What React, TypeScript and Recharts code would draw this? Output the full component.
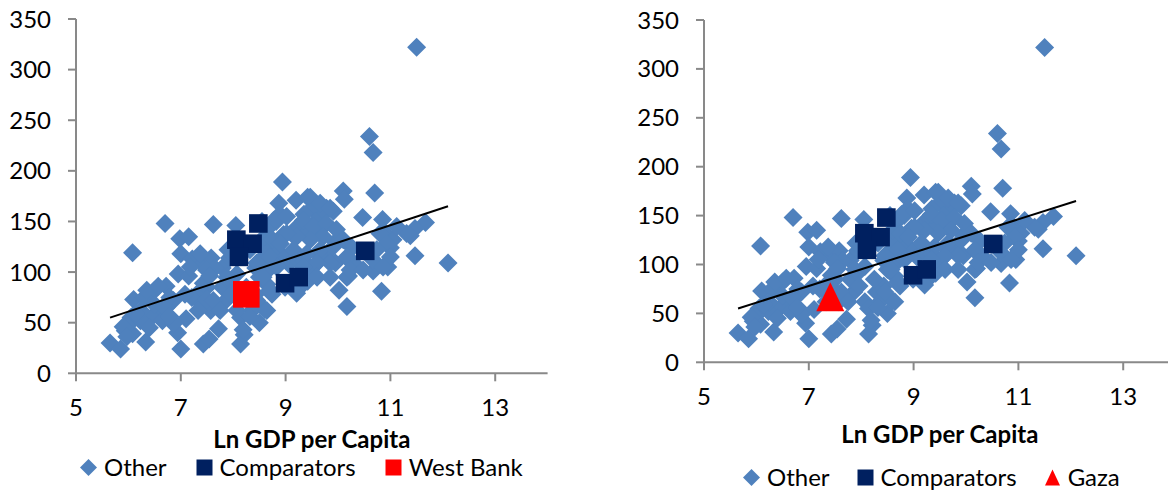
import { ScatterChart, Scatter, XAxis, YAxis, Legend } from "recharts";

const X_TICKS = [5, 7, 9, 11, 13];
const Y_TICKS = [0, 50, 100, 150, 200, 250, 300, 350];

// [ln GDP per capita, value] - the "Other" countries, same set on both panels
const OTHER: [number, number][] = [
  [11.5, 322], [10.6, 234], [10.67, 218], [8.94, 189], [10.7, 178], [10.1, 180], [10.12, 172], [8.87, 168], [9.2, 171], [9.42, 174],
  [6.7, 148], [7.62, 147], [8.05, 146], [10.47, 154], [10.85, 152], [11.67, 149], [11.47, 143], [11.38, 136], [11.47, 116], [12.1, 109],
  [6.08, 119], [6.98, 133], [7.15, 135], [7.0, 118], [7.22, 113], [7.42, 108], [7.58, 114], [6.95, 98], [7.15, 96], [6.72, 86],
  [6.5, 82], [6.1, 73], [6.3, 75], [6.05, 55], [5.65, 30], [5.85, 24], [6.33, 31], [6.94, 40], [7.1, 54], [7.0, 24],
  [7.43, 29], [7.54, 34], [7.72, 44], [8.14, 29], [8.21, 38], [8.5, 50], [8.6, 63], [8.74, 78], [8.99, 85], [9.24, 83],
  [9.42, 91], [10.02, 82], [10.17, 66], [10.2, 96], [10.83, 81], [10.67, 101], [10.95, 105], [11.0, 124], [11.05, 132], [10.87, 140],
  [9.95, 130], [9.67, 137], [9.78, 114], [9.63, 111], [9.95, 109], [10.17, 114], [10.3, 109], [10.27, 124], [9.91, 160], [9.78, 163],
  [9.67, 155], [9.5, 163], [9.35, 157], [9.57, 150], [9.21, 144], [9.13, 137], [9.43, 140], [8.89, 157], [8.82, 150], [8.96, 137],
  [8.78, 124], [8.64, 117], [8.5, 111], [8.43, 104], [8.92, 117], [9.06, 108], [9.2, 114], [9.35, 111], [9.5, 104], [9.63, 117],
  [8.71, 104], [8.5, 95], [8.64, 88], [8.43, 78], [8.29, 72], [8.36, 62], [8.07, 62], [8.14, 55], [7.86, 72], [7.79, 85],
  [7.93, 91], [8.07, 98], [7.79, 104], [7.93, 114], [7.65, 104], [7.5, 85], [7.36, 81], [7.21, 75], [7.08, 78], [7.4, 68],
  [7.57, 62], [7.5, 73], [6.86, 72], [6.72, 65], [6.57, 58], [6.44, 55], [6.23, 52], [6.65, 52], [6.86, 49], [5.94, 42],
  [6.08, 39], [5.98, 47], [6.5, 68], [6.79, 75], [7.96, 78], [8.25, 85], [6.24, 62], [6.4, 45],
  [6.35, 82], [6.57, 86], [6.13, 59], [5.9, 46], [5.97, 36], [6.67, 66], [6.79, 56], [7.18, 105], [7.37, 118], [7.62, 72],
  [7.75, 62], [7.88, 95], [7.49, 102], [7.43, 89], [7.33, 62],
  [9.47, 174], [9.66, 168], [9.85, 163], [8.77, 151], [9.02, 155], [9.34, 151], [9.53, 145], [9.78, 148], [9.97, 142], [9.72, 135],
  [9.47, 132], [9.21, 135], [9.02, 138], [8.83, 125], [9.15, 122], [9.4, 118], [9.66, 122], [9.91, 125], [10.1, 132], [10.17, 115],
  [9.85, 109], [9.6, 109], [9.34, 105], [10.17, 95], [10.8, 138], [10.93, 128], [10.74, 122], [11.0, 115], [10.67, 112], [10.86, 105],
  [11.31, 138], [11.12, 145], [8.64, 142], [8.57, 125], [8.32, 122], [8.7, 115], [8.45, 109], [8.83, 105], [8.57, 95], [8.7, 82],
  [8.45, 72], [8.64, 62], [8.32, 56], [8.19, 43], [9.21, 79], [9.6, 95], [9.85, 95], [10.23, 102], [10.48, 102],
  [8.6, 135], [8.75, 132], [8.9, 128], [8.55, 150], [7.55, 96], [7.9, 122],
];

const COMPARATORS: [number, number][] = [
  [8.48, 148], [8.06, 132], [8.37, 128], [8.11, 115], [8.99, 89], [9.25, 95], [10.52, 121],
];
const WEST_BANK: [number, number][] = [[8.25, 78]];
const GAZA: [number, number][] = [[7.41, 67]];
const TREND: [number, number][] = [[5.65, 55], [12.1, 165]];

const BLUE = "#4F81BD";
const NAVY = "#002060";
const RED = "#FF0000";
const AXIS = "#898989";
const FONT = "Lato, 'Open Sans', sans-serif";

const toXY = (pts: [number, number][]) => pts.map(([x, y]) => ({ x, y }));

const Diamond = (p: any) => (
  <polygon
    points={`${p.cx},${p.cy - 9.5} ${p.cx + 9.5},${p.cy} ${p.cx},${p.cy + 9.5} ${p.cx - 9.5},${p.cy}`}
    fill={BLUE}
  />
);
const NavySquare = (p: any) => <rect x={p.cx - 9.3} y={p.cy - 9.3} width={18.6} height={18.6} fill={NAVY} />;
const RedSquare = (p: any) => <rect x={p.cx - 13.3} y={p.cy - 13.3} width={26.6} height={26.6} fill={RED} />;
const Triangle = (p: any) => (
  <polygon
    points={`${p.cx},${p.cy - 14.5} ${p.cx + 14},${p.cy + 14.5} ${p.cx - 14},${p.cy + 14.5}`}
    fill={RED}
  />
);
const NoMark = () => <g />;

function LegendRow({ items, gap }: { items: { label: string; icon: any }[]; gap: number }) {
  return (
    <div style={{ display: "flex", alignItems: "center", fontFamily: FONT, fontSize: 24, lineHeight: "24px", color: "#000", whiteSpace: "nowrap" }}>
      {items.map((it, i) => (
        <div key={it.label} style={{ display: "flex", alignItems: "center", marginLeft: i ? gap : 0 }}>
          <svg width={17} height={17} style={{ display: "block" }}>{it.icon}</svg>
          <span style={{ marginLeft: 7 }}>{it.label}</span>
        </div>
      ))}
    </div>
  );
}

const ICON_DIAMOND = <polygon points="8.5,0 17,8.5 8.5,17 0,8.5" fill={BLUE} />;
const ICON_NAVY = <rect x={0.5} y={0.5} width={16} height={16} fill={NAVY} />;
const ICON_RED = <rect x={0.5} y={0.5} width={16} height={16} fill={RED} />;
const ICON_TRI = <polygon points="8.5,0.5 16,16.5 1,16.5" fill={RED} />;

interface PanelProps {
  width: number;
  margin: { top: number; right: number; bottom: number; left: number };
  yAxisWidth: number;
  titleOffset: number;
  focus: [number, number][];
  focusShape: any;
  legendItems: { label: string; icon: any }[];
  legendLeft: number;
  legendTop: number;
  legendGap: number;
}

function Panel(props: PanelProps) {
  const tick = { fontFamily: FONT, fontSize: 24, fill: "#000" };
  return (
    <ScatterChart width={props.width} height={491} margin={props.margin}>
      <XAxis
        type="number"
        dataKey="x"
        domain={[5, 14]}
        ticks={X_TICKS}
        interval={0}
        allowDataOverflow
        height={100}
        tickSize={8}
        tickMargin={18}
        tick={tick}
        axisLine={{ stroke: AXIS, strokeWidth: 2 }}
        tickLine={{ stroke: AXIS, strokeWidth: 2 }}
        label={{
          value: "Ln GDP per Capita",
          position: "insideBottom",
          offset: props.titleOffset,
          style: { fontFamily: FONT, fontSize: 24, fontWeight: 700, fill: "#000" },
        }}
      />
      <YAxis
        type="number"
        dataKey="y"
        domain={[0, 350]}
        ticks={Y_TICKS}
        interval={0}
        width={props.yAxisWidth}
        tickSize={8}
        tickMargin={17}
        tick={tick}
        axisLine={{ stroke: AXIS, strokeWidth: 2 }}
        tickLine={{ stroke: AXIS, strokeWidth: 2 }}
      />
      <Legend
        layout="horizontal"
        verticalAlign="middle"
        align="center"
        wrapperStyle={{ left: props.legendLeft, top: props.legendTop, width: "auto" }}
        content={() => <LegendRow items={props.legendItems} gap={props.legendGap} />}
      />
      <Scatter name="Other" data={toXY(OTHER)} shape={Diamond} isAnimationActive={false} />
      <Scatter name="Comparators" data={toXY(COMPARATORS)} shape={NavySquare} isAnimationActive={false} />
      <Scatter name="Focus" data={toXY(props.focus)} shape={props.focusShape} isAnimationActive={false} />
      <Scatter
        name="Trend"
        data={toXY(TREND)}
        fill="#000"
        line={{ stroke: "#000", strokeWidth: 2 }}
        shape={NoMark}
        legendType="none"
        isAnimationActive={false}
      />
    </ScatterChart>
  );
}

export default function App() {
  return (
    <div style={{ position: "absolute", left: 0, top: 0, width: 1168, height: 491, overflow: "hidden", background: "#fff" }}>
      <div style={{ position: "absolute", left: 0, top: 0 }}>
        <Panel
          width={580}
          margin={{ top: 19, right: 32.4, bottom: 17.7, left: 0 }}
          yAxisWidth={76}
          titleOffset={25}
          focus={WEST_BANK}
          focusShape={RedSquare}
          legendItems={[
            { label: "Other", icon: ICON_DIAMOND },
            { label: "Comparators", icon: ICON_NAVY },
            { label: "West Bank", icon: ICON_RED },
          ]}
          legendLeft={80}
          legendTop={455}
          legendGap={29}
        />
      </div>
      <div style={{ position: "absolute", left: 600, top: 0 }}>
        <Panel
          width={600}
          margin={{ top: 20, right: 24.4, bottom: 28.7, left: 0 }}
          yAxisWidth={104}
          titleOffset={19}
          focus={GAZA}
          focusShape={Triangle}
          legendItems={[
            { label: "Other", icon: ICON_DIAMOND },
            { label: "Comparators", icon: ICON_NAVY },
            { label: "Gaza", icon: ICON_TRI },
          ]}
          legendLeft={143}
          legendTop={465}
          legendGap={27}
        />
      </div>
    </div>
  );
}
